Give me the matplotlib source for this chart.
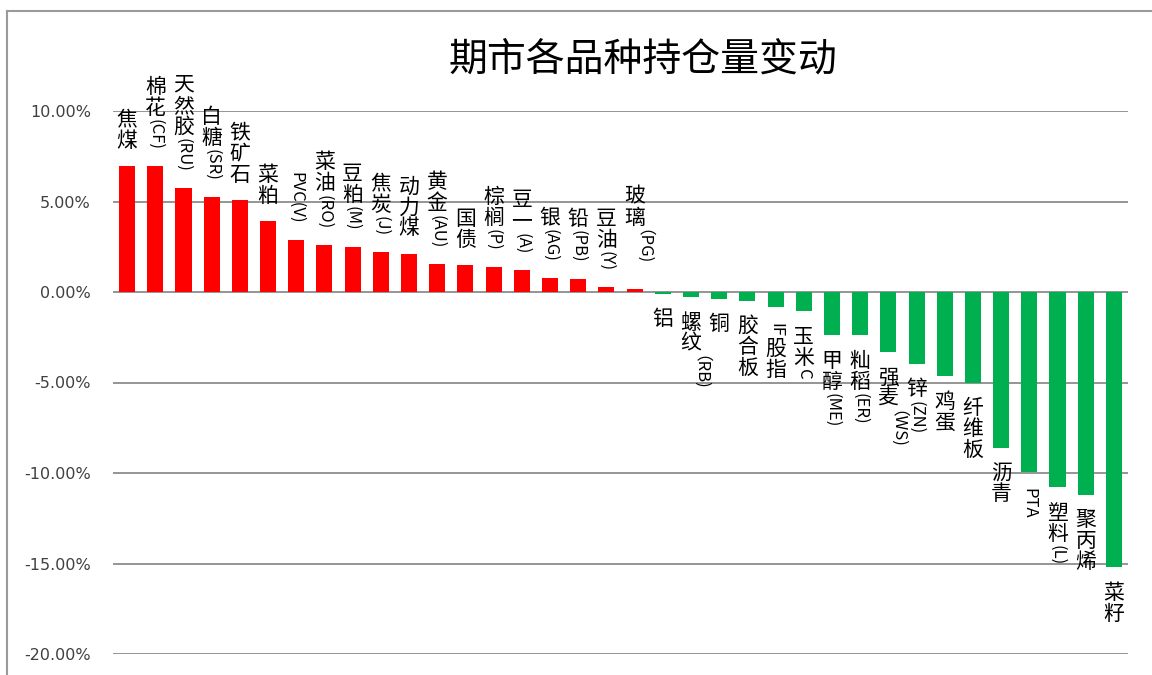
import numpy as np
import matplotlib
matplotlib.use("Agg")
import matplotlib.pyplot as plt
from matplotlib.lines import Line2D

# data: open interest change by contract (%)
names = ["焦煤", "棉花(CF)", "天然胶(RU)", "白糖(SR)", "铁矿石", "菜粕", "PVC(V)",
         "菜油(RO)", "豆粕(M)", "焦炭(J)", "动力煤", "黄金(AU)", "国债", "棕榈(P)",
         "豆一(A)", "银(AG)", "铅(PB)", "豆油(Y)", "玻璃（PG)",
         "铝", "螺纹（RB)", "铜", "胶合板", "IF股指", "玉米C", "甲醇(ME)", "籼稻(ER)",
         "强麦（WS)", "锌(ZN)", "鸡蛋", "纤维板", "沥青", "PTA", "塑料(L)", "聚丙烯", "菜籽"]
values = [6.95, 6.95, 5.73, 5.24, 5.07, 3.90, 2.87, 2.60, 2.48, 2.20, 2.10, 1.55,
          1.47, 1.38, 1.20, 0.80, 0.72, 0.25, 0.15,
          -0.10, -0.30, -0.37, -0.47, -0.85, -1.05, -2.40, -2.40, -3.30, -3.97,
          -4.65, -5.00, -8.60, -9.95, -10.80, -11.20, -15.20]
title = "期市各品种持仓量变动"

plt.rcParams['font.family'] = ['Noto Sans CJK SC', 'DejaVu Sans']

W, H = 1152, 675
fig = plt.figure(figsize=(W / 100, H / 100), dpi=100)
ax = fig.add_axes([113 / W, 1 - 654 / H, (1128 - 113) / W, (654 - 111) / H])

x = np.arange(len(names))
colors = ['#FF0000' if v > 0 else '#00B050' for v in values]
ax.bar(x, values, width=0.57, color=colors, zorder=3)
ax.set_xlim(-0.5, len(names) - 0.5)
ax.set_ylim(-20, 10)
ax.set_yticks(np.arange(-20, 10.1, 5))
ax.yaxis.set_major_formatter(lambda v, p: f"{v:.2f}%")
ax.grid(axis='y', color='#8c8c8c', lw=1.3, zorder=0)
for s in ax.spines.values():
    s.set_visible(False)
ax.tick_params(axis='y', length=0, pad=16, labelsize=11.5, labelcolor='#404040')
ax.tick_params(axis='x', bottom=False, labelbottom=False)
for lab in ax.get_yticklabels():
    lab.set_family('DejaVu Sans')

# vertical data labels: CJK upright, latin runs rotated
renderer = fig.canvas.get_renderer()
CJK_ADV = 21
GAP = 15
PT = 72 / 100


def upright(c):
    return ord(c) >= 0x2E80 and c not in '（）'


def split_runs(s):
    out = []
    for c in s:
        if upright(c):
            out.append((True, c))
        elif out and not out[-1][0]:
            out[-1] = (False, out[-1][1] + c)
        else:
            out.append((False, c))
    return out


for i, (name, v) in enumerate(zip(names, values)):
    segs = []
    for up, txt in split_runs(name):
        if up:
            segs.append((up, txt, CJK_ADV))
        else:
            t = fig.text(0, 0, txt, rotation=-90, fontsize=12)
            ln = t.get_window_extent(renderer).height
            t.remove()
            segs.append((up, txt, ln + 2))
    total = sum(s[2] for s in segs)
    cursor = GAP + total if v > 0 else -GAP
    for up, txt, ln in segs:
        c = cursor - ln / 2
        ax.annotate(txt, xy=(i, v), xytext=(0, c * PT), textcoords='offset points',
                    ha='center', va='center', rotation=0 if up else -90,
                    fontsize=15 if up else 12, color='black', zorder=4)
        cursor -= ln

fig.text(643 / W, 1 - 60 / H, title, ha='center', va='center', fontsize=28, color='black')

# chart frame
fig.add_artist(Line2D([7 / W, 7 / W], [0, 1 - 11 / H], transform=fig.transFigure,
                      color='#9a9a9a', lw=1.5))
fig.add_artist(Line2D([7 / W, 1], [1 - 11 / H, 1 - 11 / H], transform=fig.transFigure,
                      color='#9a9a9a', lw=1.5))

fig.savefig("out.png", dpi=100)
